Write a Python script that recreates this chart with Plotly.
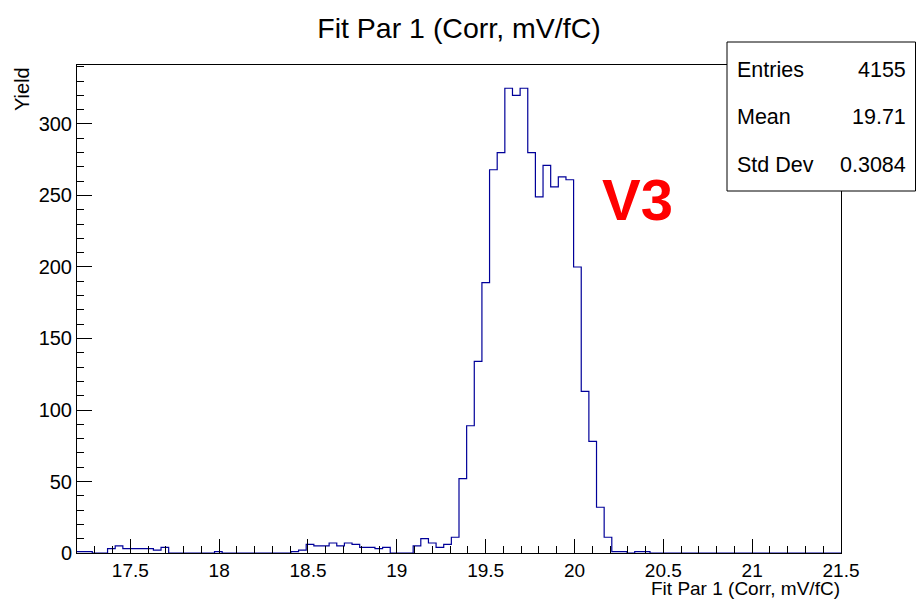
import numpy as np
import plotly.graph_objects as go

# Histogram definition (100 bins from 17.2 to 21.5)
x_low = 17.2
x_high = 21.5
n_bins = 100
counts = [
    1, 1, 0, 0, 3, 5, 3, 3, 3, 3,
    2, 4, 0, 0, 0, 0, 0, 0, 1, 0,
    0, 0, 0, 0, 0, 0, 0, 0, 1, 2,
    6, 5, 5, 7, 5, 7, 6, 4, 4, 3,
    4, 0, 0, 0, 5, 10, 7, 4, 6, 11,
    52, 89, 134, 189, 268, 280, 325, 320, 325, 280,
    249, 271, 256, 263, 261, 200, 113, 78, 32, 11,
    1, 1, 0, 1, 1, 0, 0, 0, 0, 0,
    0, 0, 0, 0, 0, 0, 0, 0, 0, 0,
    0, 0, 0, 0, 0, 0, 0, 0, 0, 0,
]
stats_labels = ["Entries", "Mean", "Std Dev"]
stats_values = ["4155", "19.71", "0.3084"]
title_text = "Fit Par 1 (Corr, mV/fC)"
x_title = "Fit Par 1 (Corr, mV/fC)"
y_title = "Yield"
tag_text = "V3"

edges = np.linspace(x_low, x_high, n_bins + 1)
xs = list(edges)
ys = list(counts) + [counts[-1]]

FONT = "Liberation Sans, Arial, Helvetica, sans-serif"

fig = go.Figure()
fig.add_trace(go.Scatter(
    x=xs, y=ys, mode="lines", line_shape="hv",
    line=dict(color="#000099", width=1.2),
    hoverinfo="skip", showlegend=False,
))

ymax = max(counts) * 1.05

fig.update_layout(
    width=916, height=600,
    margin=dict(l=77, r=75, t=65, b=47),
    paper_bgcolor="white", plot_bgcolor="white",
    font=dict(family=FONT, size=20, color="black"),
    title=dict(text=title_text, x=459 / 916, xanchor="center",
               y=1 - 28 / 600, yanchor="middle", yref="container",
               font=dict(family=FONT, size=28.5, color="black")),
    showlegend=False,
)

fig.update_xaxes(
    range=[x_low, x_high], showgrid=False, zeroline=False,
    showline=True, linecolor="black", linewidth=1, mirror=True,
    ticks="inside", ticklen=14, tickcolor="black", tickwidth=1,
    tick0=17.5, dtick=0.5,
    minor=dict(ticks="inside", ticklen=7, dtick=0.1, tickcolor="black", showgrid=False),
    tickfont=dict(family=FONT, size=19, color="black"),
)
fig.update_yaxes(
    range=[0, ymax], showgrid=False, zeroline=False,
    showline=True, linecolor="black", linewidth=1, mirror=True,
    ticks="inside", ticklen=15, tickcolor="black", tickwidth=1,
    tick0=0, dtick=50,
    minor=dict(ticks="inside", ticklen=7, dtick=10, tickcolor="black", showgrid=False),
    tickfont=dict(family=FONT, size=20, color="black"),
)

# Stats box
px2x = lambda p: (p - 77) / (916 - 77 - 75)
py2y = lambda p: (600 - 47 - p) / (600 - 65 - 47)

fig.add_shape(type="rect", xref="paper", yref="paper",
              x0=px2x(727), x1=px2x(915.5), y0=py2y(191), y1=py2y(42),
              line=dict(color="black", width=1), fillcolor="white", layer="above")

row_y = [70, 117, 165]
for lab, val, ry in zip(stats_labels, stats_values, row_y):
    fig.add_annotation(text=lab, xref="paper", yref="paper", x=px2x(735), y=py2y(ry),
                       xanchor="left", yanchor="middle", showarrow=False,
                       font=dict(family=FONT, size=21.5, color="black"))
    fig.add_annotation(text=val, xref="paper", yref="paper", x=px2x(908), y=py2y(ry),
                       xanchor="right", yanchor="middle", showarrow=False,
                       font=dict(family=FONT, size=21.5, color="black"))

# Axis titles
fig.add_annotation(text=x_title, xref="paper", yref="paper", x=px2x(841), y=py2y(600),
                   xanchor="right", yanchor="bottom", showarrow=False, borderpad=0,
                   font=dict(family=FONT, size=19, color="black"))
fig.add_annotation(text=y_title, xref="paper", yref="paper", x=px2x(22), y=py2y(65),
                   xanchor="center", yanchor="top", textangle=-90, showarrow=False,
                   font=dict(family=FONT, size=20, color="black"))

# Tag
fig.add_annotation(text="<b>" + tag_text + "</b>", xref="paper", yref="paper",
                   x=px2x(637), y=py2y(199), xanchor="center", yanchor="middle",
                   showarrow=False, font=dict(family=FONT, size=58, color="red"))

fig.write_html("out.html", config={"displayModeBar": False},
               post_script="document.body.style.margin='0';document.body.style.padding='0';")
